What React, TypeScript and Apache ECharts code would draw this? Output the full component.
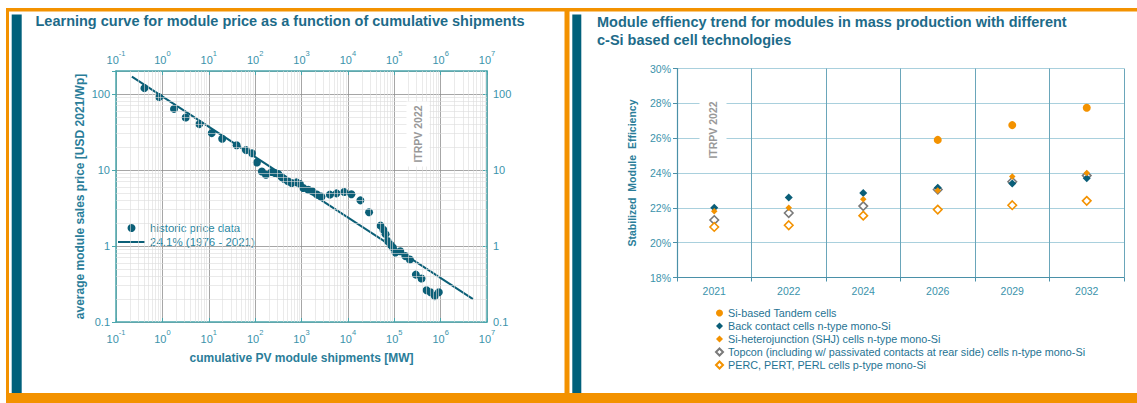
import React, { useEffect, useRef } from 'react';
import * as echarts from 'echarts';

// ---------- Left chart data: learning curve ----------
const shipmentsMW = [
  0.41, 0.85, 1.78, 3.18, 6.24, 11.6, 19.5, 39.9, 63.4, 85.4, 109, 140, 171, 227, 267, 318,
  372, 424, 517, 612, 784, 924, 1090, 1400, 1730, 2180, 2690, 4090, 5700, 8320, 11900,
  18600, 28600, 50700, 58200, 65000, 71800, 83300, 93300, 106000, 135000, 173000, 217000,
  292000, 388000, 497000, 606000, 750000, 914000,
];
const priceUSD = [
  119, 90.6, 63.5, 48.9, 40.0, 30.5, 25.7, 21.1, 18.2, 16.6, 12.5, 9.55, 8.65, 9.37, 9.1, 8.8,
  8.07, 7.6, 7.07, 6.73, 6.86, 6.53, 5.78, 5.5, 5.22, 4.73, 4.45, 4.73, 4.92, 5.13, 4.78,
  3.98, 2.77, 1.85, 1.64, 1.43, 1.16, 1.04, 0.953, 0.82, 0.85, 0.736, 0.663,
  0.42, 0.373, 0.262, 0.246, 0.219, 0.246,
];
const trendShipmentsMW = [0.22, 5e6];
const trendPriceUSD = [169, 0.2];
const xDecadeExponents = [-1, 0, 1, 2, 3, 4, 5, 6, 7];
const yDecadeExponents = [-1, 0, 1, 2];

// ---------- Right chart data: module efficiency ----------
const years = ['2021', '2022', '2024', '2026', '2029', '2032'];
const tandem = [null, null, null, 25.9, 26.75, 27.75];
const backContact = [22.0, 22.6, 22.85, 23.15, 23.4, 23.7];
const heterojunction = [21.8, 22.0, 22.5, 23.0, 23.8, 24.0];
const topcon = [21.3, 21.7, 22.1, 23.05, 23.5, 23.85];
const perc = [20.9, 21.0, 21.55, 21.9, 22.15, 22.4];

const ORANGE = '#f39200';
const TEAL_BAR = '#00607b';
const TEAL_DOT = '#0b5f77';
const TITLE = '#1d6b89';
const LABEL = '#3b93ab';
const NAME = '#2a7d99';
const AXIS_CYAN = '#4aa7ad';
const GRAY = '#7a7a7a';
const FONT = '"Liberation Sans", Arial, Helvetica, sans-serif';

const minorX: number[] = [];
xDecadeExponents.slice(0, -1).forEach((e) => {
  for (let m = 2; m <= 9; m++) minorX.push(m * Math.pow(10, e));
});
const minorY: number[] = [];
yDecadeExponents.slice(0, -1).forEach((e) => {
  for (let m = 2; m <= 9; m++) minorY.push(m * Math.pow(10, e));
});

const isDecade = (v: number) => {
  const l = Math.log10(v);
  return Math.abs(l - Math.round(l)) < 0.01;
};
const powLabel = (v: number) => (isDecade(v) ? `{b|10}{s|${Math.round(Math.log10(v))}}` : '');
const yLogLabel = (v: number) => {
  if (!isDecade(v)) return '';
  return v >= 1 ? String(Math.round(v)) : String(Number(v.toPrecision(1)));
};
const powRich = {
  b: { fontSize: 11, color: LABEL, lineHeight: 16, verticalAlign: 'bottom', fontFamily: FONT },
  s: { fontSize: 7.5, color: LABEL, lineHeight: 9, verticalAlign: 'top', fontFamily: FONT },
};

const logX = (position: 'bottom' | 'top', extra: any) => ({
  type: 'log',
  logBase: 10,
  gridIndex: 0,
  min: 0.1,
  max: 1e7,
  position,
  axisLine: { show: true, onZero: false, lineStyle: { color: AXIS_CYAN, width: 1.5 } },
  axisTick: { show: true, inside: true, length: 4, lineStyle: { color: AXIS_CYAN } },
  axisLabel: { formatter: powLabel, rich: powRich, margin: 6 },
  ...extra,
});
const logY = (position: 'left' | 'right', extra: any) => ({
  type: 'log',
  logBase: 10,
  gridIndex: 0,
  min: 0.1,
  max: 200,
  position,
  axisLine: { show: true, onZero: false, lineStyle: { color: AXIS_CYAN, width: 1.5 } },
  axisTick: { show: true, inside: position === 'right', length: 4, lineStyle: { color: AXIS_CYAN } },
  axisLabel: { formatter: yLogLabel, color: LABEL, fontSize: 11, margin: 6, fontFamily: FONT },
  ...extra,
});

const option: any = {
  animation: false,
  backgroundColor: '#ffffff',
  textStyle: { fontFamily: FONT },
  grid: [
    { left: 116, top: 71, width: 371, height: 251 },
    { left: 677, top: 68.5, width: 447, height: 209 },
  ],
  xAxis: [
    logX('bottom', {
      splitLine: { show: true, lineStyle: { color: '#8f8f8f', width: 0.8 } },
      name: 'cumulative PV module shipments [MW]',
      nameLocation: 'middle',
      nameGap: 30,
      nameTextStyle: { fontWeight: 'bold', fontSize: 12, color: NAME, fontFamily: FONT },
    }),
    logX('top', { splitLine: { show: false } }),
    {
      type: 'category',
      gridIndex: 1,
      data: years,
      boundaryGap: true,
      axisLine: { show: true, lineStyle: { color: '#4a90a8', width: 1.2 } },
      axisTick: { show: true, length: 4, lineStyle: { color: '#4a90a8' } },
      axisLabel: { color: LABEL, fontSize: 10.5, margin: 8, fontFamily: FONT },
      splitLine: { show: true, lineStyle: { color: '#6aa6ba', width: 1 } },
    },
  ],
  yAxis: [
    logY('left', {
      splitLine: { show: true, lineStyle: { color: '#8f8f8f', width: 0.8 } },
      name: 'average module sales price [USD 2021/Wp]',
      nameLocation: 'middle',
      nameGap: 30,
      nameTextStyle: { fontWeight: 'bold', fontSize: 12, color: NAME, fontFamily: FONT },
    }),
    logY('right', { splitLine: { show: false } }),
    {
      type: 'value',
      gridIndex: 1,
      min: 18,
      max: 30,
      interval: 2,
      axisLine: { show: true, lineStyle: { color: '#4a90a8', width: 1.2 } },
      axisTick: { show: true, length: 4, lineStyle: { color: '#4a90a8' } },
      axisLabel: { formatter: '{value}%', color: LABEL, fontSize: 10.5, margin: 6, fontFamily: FONT },
      splitLine: { show: true, lineStyle: { color: '#a9d0dd', width: 1 } },
      name: 'Stabilized  Module  Efficiency',
      nameLocation: 'middle',
      nameGap: 40,
      nameTextStyle: { fontWeight: 'bold', fontSize: 10.5, color: NAME, fontFamily: FONT },
    },
  ],
  legend: [
    {
      data: [
        { name: 'historic price data', icon: 'circle' },
        { name: '24.1% (1976 - 2021)', icon: 'path://M0,0 L27,0 L27,2 L0,2 Z' },
      ],
      orient: 'vertical',
      left: 113,
      top: 217,
      itemWidth: 27,
      itemHeight: 8,
      itemGap: 2,
      selectedMode: false,
      textStyle: { fontSize: 11.5, color: '#2a86a0', fontFamily: FONT },
    },
    {
      data: [
        'Si-based Tandem cells',
        'Back contact cells n-type mono-Si',
        'Si-heterojunction (SHJ) cells n-type mono-Si',
        'Topcon (including w/ passivated contacts at rear side) cells n-type mono-Si',
        'PERC, PERT, PERL cells p-type mono-Si',
      ],
      orient: 'vertical',
      left: 710,
      top: 302,
      itemWidth: 7,
      itemHeight: 7,
      itemGap: 1,
      selectedMode: false,
      textStyle: { fontSize: 10.8, color: '#1f7393', fontFamily: FONT, lineHeight: 12 },
    },
  ],
  series: [
    {
      type: 'line',
      xAxisIndex: 0,
      yAxisIndex: 0,
      data: [],
      silent: true,
      z: 1,
      markLine: {
        silent: true,
        symbol: ['none', 'none'],
        label: { show: false },
        lineStyle: { color: '#dcdcdc', width: 0.6, type: 'solid' },
        data: [...minorX.map((v) => ({ xAxis: v })), ...minorY.map((v) => ({ yAxis: v }))],
      },
    },
    {
      name: 'historic price data',
      type: 'scatter',
      xAxisIndex: 0,
      yAxisIndex: 0,
      data: shipmentsMW.map((x, i) => [x, priceUSD[i]]),
      symbolSize: 8,
      itemStyle: { color: TEAL_DOT, opacity: 1 },
      z: 4,
    },
    {
      name: '24.1% (1976 - 2021)',
      type: 'line',
      xAxisIndex: 0,
      yAxisIndex: 0,
      data: trendShipmentsMW.map((x, i) => [x, trendPriceUSD[i]]),
      symbol: 'none',
      showSymbol: false,
      lineStyle: { color: TEAL_DOT, width: 2, type: 'solid' },
      itemStyle: { color: TEAL_DOT },
      z: 3,
    },
    {
      name: 'Si-based Tandem cells',
      type: 'scatter',
      xAxisIndex: 2,
      yAxisIndex: 2,
      data: tandem,
      symbol: 'circle',
      symbolSize: 8,
      itemStyle: { color: ORANGE, opacity: 1 },
      z: 6,
    },
    {
      name: 'Back contact cells n-type mono-Si',
      type: 'scatter',
      xAxisIndex: 2,
      yAxisIndex: 2,
      data: backContact,
      symbol: 'diamond',
      symbolSize: 8,
      itemStyle: { color: '#0a5e78', opacity: 1 },
      z: 4,
    },
    {
      name: 'Si-heterojunction (SHJ) cells n-type mono-Si',
      type: 'scatter',
      xAxisIndex: 2,
      yAxisIndex: 2,
      data: heterojunction,
      symbol: 'diamond',
      symbolSize: 6.5,
      itemStyle: { color: ORANGE, opacity: 1 },
      z: 5,
    },
    {
      name: 'Topcon (including w/ passivated contacts at rear side) cells n-type mono-Si',
      type: 'scatter',
      xAxisIndex: 2,
      yAxisIndex: 2,
      data: topcon,
      symbol: 'diamond',
      symbolSize: 8.5,
      itemStyle: { color: '#ffffff', borderColor: GRAY, borderWidth: 1.6, opacity: 1 },
      z: 3,
    },
    {
      name: 'PERC, PERT, PERL cells p-type mono-Si',
      type: 'scatter',
      xAxisIndex: 2,
      yAxisIndex: 2,
      data: perc,
      symbol: 'diamond',
      symbolSize: 8.5,
      itemStyle: { color: '#ffffff', borderColor: ORANGE, borderWidth: 1.6, opacity: 1 },
      z: 3,
    },
  ],
  graphic: [
    // frames
    { type: 'rect', silent: true, z: 0, shape: { x: 6, y: 8, width: 1131, height: 3.5 }, style: { fill: ORANGE } },
    { type: 'rect', silent: true, z: 0, shape: { x: 6, y: 8, width: 3, height: 395 }, style: { fill: ORANGE } },
    { type: 'rect', silent: true, z: 0, shape: { x: 564.5, y: 8, width: 5, height: 395 }, style: { fill: ORANGE } },
    { type: 'rect', silent: true, z: 0, shape: { x: 6, y: 393, width: 1131, height: 10 }, style: { fill: ORANGE } },
    { type: 'rect', silent: true, z: 0, shape: { x: 11.7, y: 14.5, width: 10, height: 378.5 }, style: { fill: TEAL_BAR } },
    { type: 'rect', silent: true, z: 0, shape: { x: 572.3, y: 14.5, width: 9, height: 378.5 }, style: { fill: TEAL_BAR } },
    // titles
    {
      type: 'text', silent: true, x: 35.5, y: 20.5,
      style: { text: 'Learning curve for module price as a function of cumulative shipments', fill: TITLE, font: `bold 14.5px ${FONT}`, verticalAlign: 'middle' },
    },
    {
      type: 'text', silent: true, x: 597, y: 22,
      style: { text: 'Module effiency trend for modules in mass production with different', fill: TITLE, font: `bold 14.5px ${FONT}`, verticalAlign: 'middle' },
    },
    {
      type: 'text', silent: true, x: 597, y: 40,
      style: { text: 'c-Si based cell technologies', fill: TITLE, font: `bold 14.5px ${FONT}`, verticalAlign: 'middle' },
    },
    // watermarks
    {
      type: 'text', silent: true, z: 50, x: 418, y: 134, rotation: Math.PI / 2,
      style: { text: 'ITRPV 2022', fill: '#999999', font: `bold 10.5px ${FONT}`, align: 'center', verticalAlign: 'middle', backgroundColor: '#ffffff', padding: [6, 4, 6, 4] },
    },
    {
      type: 'text', silent: true, z: 50, x: 713, y: 130, rotation: Math.PI / 2,
      style: { text: 'ITRPV 2022', fill: '#999999', font: `bold 10.5px ${FONT}`, align: 'center', verticalAlign: 'middle', backgroundColor: '#ffffff', padding: [8, 4, 8, 4] },
    },
  ],
};

export default function App() {
  const ref = useRef<HTMLDivElement>(null);
  useEffect(() => {
    const chart = echarts.init(ref.current as HTMLDivElement, null, { renderer: 'svg' });
    chart.setOption(option);
    return () => chart.dispose();
  }, []);
  return (
    <div
      ref={ref}
      style={{ position: 'absolute', left: 0, top: 0, width: 1137, height: 403, background: '#ffffff' }}
    />
  );
}
